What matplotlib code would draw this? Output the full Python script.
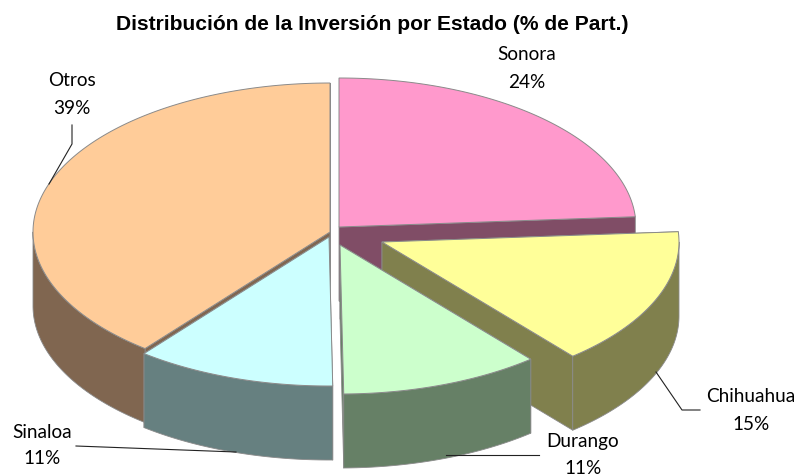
import numpy as np
import matplotlib
matplotlib.use('Agg')
import matplotlib.pyplot as plt
from matplotlib.patches import Polygon

estados = ['Sonora', 'Chihuahua', 'Durango', 'Sinaloa', 'Otros']
valores = [23.9, 15.0, 10.9, 10.9, 39.3]

colores = ['#FF99CC', '#FFFF99', '#CCFFCC', '#CCFFFF', '#FFCC99']
laterales = ['#804D66', '#80804D', '#668066', '#668080', '#806650']

# pie layout, in pixels
cx, cy = 335, 235
a, b = 297, 149
prof = 74
sep = {'Sonora': (4, -8), 'Chihuahua': (47, 7), 'Durango': (5, 10),
       'Sinaloa': (-6, 2), 'Otros': (-5, -3)}
orden = ['Sonora', 'Otros', 'Chihuahua', 'Sinaloa', 'Durango']

etiquetas = {'Sonora': (527, 55), 'Chihuahua': (751, 397), 'Durango': (583, 442),
             'Sinaloa': (42, 432), 'Otros': (72, 81)}
guias = [[(72, 125), (72, 144), (49, 184)],
         [(656, 372), (682, 410), (700, 410)],
         [(446, 455), (539, 455)],
         [(76, 446), (236, 452)]]

fig = plt.figure(figsize=(8.01, 4.76), dpi=100)
ax = fig.add_axes([0, 0, 1, 1])
ax.set_xlim(0, 801)
ax.set_ylim(476, 0)
ax.axis('off')

acum = np.cumsum([0] + valores) / 100 * 2 * np.pi


def borde(t, x0, y0):
    return x0 + a * np.sin(t), y0 - b * np.cos(t)


for nombre in orden:
    i = estados.index(nombre)
    t0, t1 = acum[i], acum[i + 1]
    x0 = cx + sep[nombre][0]
    y0 = cy + sep[nombre][1]
    kw = dict(facecolor=laterales[i], edgecolor='#8a8a8a', linewidth=0.6, joinstyle='round')

    # cut faces
    for t in (t0, t1):
        x1, y1 = borde(t, x0, y0)
        ax.add_patch(Polygon([(x0, y0), (x1, y1), (x1, y1 + prof), (x0, y0 + prof)], **kw))

    # outer wall, only the front half of the rim shows
    ini, fin = max(t0, np.pi / 2), min(t1, 3 * np.pi / 2)
    if fin > ini:
        ts = np.linspace(ini, fin, 80)
        xs, ys = borde(ts, x0, y0)
        pared = list(zip(xs, ys)) + list(zip(xs[::-1], ys[::-1] + prof))
        ax.add_patch(Polygon(pared, **kw))

    # top
    ts = np.linspace(t0, t1, 160)
    xs, ys = borde(ts, x0, y0)
    tapa = [(x0, y0)] + list(zip(xs, ys))
    ax.add_patch(Polygon(tapa, facecolor=colores[i], edgecolor='#8a8a8a', linewidth=0.7))

for g in guias:
    ax.plot([p[0] for p in g], [p[1] for p in g], color='#222222', lw=0.8)

for nombre, val in zip(estados, valores):
    x, y = etiquetas[nombre]
    ax.text(x, y, nombre, ha='center', va='center', family='Lato', fontsize=13.7, color='black')
    ax.text(x, y + 27, f'{round(val)}%', ha='center', va='center', family='Lato',
            fontsize=13.7, color='black')

ax.text(372, 24, 'Distribución de la Inversión por Estado (% de Part.)', ha='center', va='center',
        family='Liberation Sans', fontweight='bold', fontsize=15.1, color='black')

fig.savefig('out.png', dpi=100)
